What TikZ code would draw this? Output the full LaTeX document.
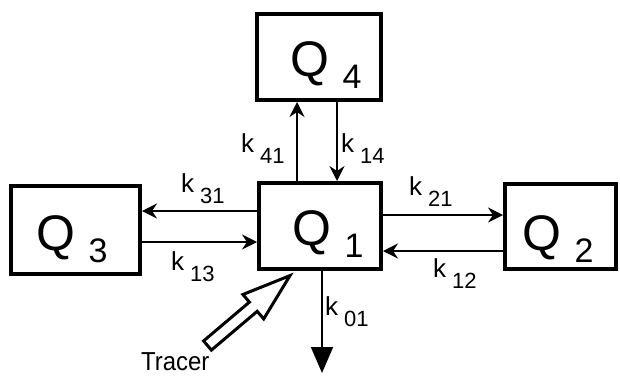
\documentclass[tikz,border=0pt]{standalone}
\usepackage{fontspec}
\setmainfont{Liberation Sans}
\usetikzlibrary{arrows.meta,calc}
\newcommand{\qlab}[1]{{\fontsize{50}{50}\selectfont Q}\hspace{13pt}\raisebox{-12pt}{\fontsize{34}{34}\selectfont #1}}
\newcommand{\klab}[1]{{\fontsize{26}{26}\selectfont k}\hspace{6pt}\raisebox{-11pt}{\fontsize{22}{22}\selectfont #1}}
\begin{document}
\begin{tikzpicture}[x=1pt,y=-1pt,
  box/.style={draw, line width=4pt, inner sep=0pt},
  qtext/.style={anchor=base west, inner sep=0pt},
  ktext/.style={anchor=base west, inner sep=0pt},
  arr/.style={line width=1.8pt, -{Stealth[length=15pt,width=15pt,inset=5pt]}}]
\useasboundingbox (0,0) rectangle (620,383);
% compartments
\node[box, minimum width=122pt, minimum height=86pt] (Q1) at (320,226) {};
\node[box, minimum width=124pt, minimum height=86pt] (Q4) at (319,57) {};
\node[box, minimum width=129pt, minimum height=88pt] (Q3) at (75.5,230) {};
\node[box, minimum width=111pt, minimum height=85pt] (Q2) at (560.5,226.5) {};
\node[qtext] (Q1t) at (292.5,245) {\qlab{1}};
\node[qtext] (Q4t) at (290.5,76) {\qlab{4}};
\node[qtext] (Q3t) at (36.5,250) {\qlab{3}};
\node[qtext] (Q2t) at (522.5,250) {\qlab{2}};
% Q1 <-> Q4
\coordinate (a41) at ([xshift=-23pt]Q1.north);
\coordinate (a14) at ([xshift=17pt]Q1.north);
\draw[arr] (a41) -- (a41 |- Q4.south);
\draw[arr] (a14 |- Q4.south) -- (a14);
% Q1 <-> Q3
\coordinate (a31) at ([yshift=15pt]Q1.west);
\coordinate (a13) at ([yshift=-16pt]Q1.west);
\draw[arr] (a31) -- (a31 -| Q3.east);
\draw[arr] (a13 -| Q3.east) -- (a13);
% Q1 <-> Q2
\coordinate (a21) at ([yshift=11pt]Q1.east);
\coordinate (a12) at ([yshift=-25pt]Q1.east);
\draw[arr] (a21) -- (a21 -| Q2.west);
\draw[arr] (a12 -| Q2.west) -- (a12);
% outflow
\coordinate (sink) at (322,373);
\draw[line width=1.8pt, -{Triangle[length=26pt,width=22pt]}] (Q1.south -| sink) -- (sink);
% rate labels
\node[ktext] (k41) at (241,152) {\klab{41}};
\node[ktext] (k14) at (341,152) {\klab{14}};
\node[ktext] (k31) at (181,192) {\klab{31}};
\node[ktext] (k13) at (171,270) {\klab{13}};
\node[ktext] (k21) at (409,195) {\klab{21}};
\node[ktext] (k12) at (433,277) {\klab{12}};
\node[ktext] (k01) at (325,315) {\klab{01}};
% tracer input
\draw[line width=3pt, fill=white, line join=miter]
  (211.4,350.1) -- (257.2,311.3) -- (263.7,318.9) -- (290,275.6)
  -- (242.9,294.5) -- (249.4,302.1) -- (203.6,340.9) -- cycle;
\node[anchor=base west, inner sep=0pt] (tracer) at (141,370)
  {\scalebox{0.92}[1]{\fontsize{26}{26}\selectfont Tracer}};
\end{tikzpicture}
\end{document}
